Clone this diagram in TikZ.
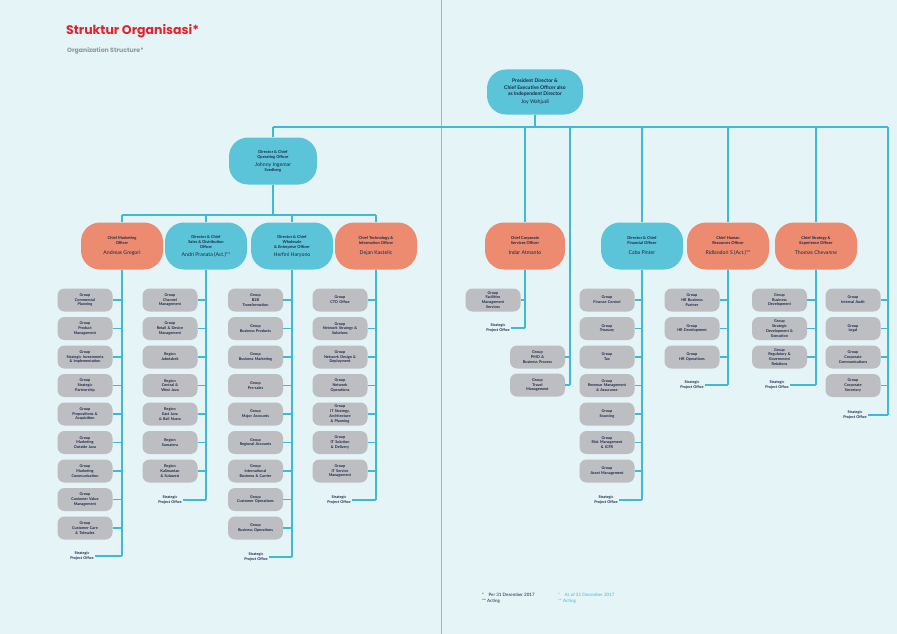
\documentclass[tikz,border=0pt]{standalone}
\usepackage{fontspec}
\setmainfont{Lato}
\newfontfamily\titlefont{Poppins}
\definecolor{bgblue}{HTML}{E5F4F7}
\definecolor{cyanbox}{HTML}{5CC4D8}
\definecolor{orangebox}{HTML}{EC8B70}
\definecolor{graybox}{HTML}{BDBEC2}
\definecolor{linecyan}{HTML}{3FB9D5}
\definecolor{navy}{HTML}{1B2646}
\definecolor{titlered}{HTML}{E2232E}
\definecolor{subgray}{HTML}{8C969E}
\definecolor{foldgray}{HTML}{A7B6BC}
\newcommand{\nameline}{\mdseries\fontsize{5.2}{6.2}\selectfont}

\begin{document}
\begin{tikzpicture}[x=1pt, y=-1pt,
    link/.style={draw=linecyan, line width=1.8pt},
    chief/.style={rounded corners=19pt, minimum width=82pt, minimum height=47pt,
                  inner sep=1pt, align=center, text=navy,
                  font=\bfseries\fontsize{4}{5}\selectfont},
    cyanchief/.style={chief, fill=cyanbox},
    orangechief/.style={chief, fill=orangebox},
    grp/.style={fill=graybox, rounded corners=7pt, minimum width=55pt,
                minimum height=23pt, text width=54pt, inner sep=0pt,
                align=center, text=navy,
                font=\bfseries\fontsize{3.8}{4.8}\selectfont},
    spo/.style={align=center, inner sep=1pt, text=navy,
                font=\bfseries\fontsize{3.8}{4.8}\selectfont}]

    \useasboundingbox (0,0) rectangle (897,634);
    \fill[bgblue] (0,0) rectangle (897,634);
    \draw[foldgray, line width=0.8pt] (441,0) -- (441,634);

    % title
    \node[anchor=west, inner sep=0pt, text=titlered,
          font=\titlefont\bfseries\fontsize{12.5}{14}\selectfont] (title) at (66,31) {Struktur Organisasi*};
    \node[anchor=west, inner sep=0pt, text=subgray,
          font=\titlefont\bfseries\fontsize{6.2}{7}\selectfont] (subtitle) at (67,51) {Organization Structure*};

    % top of the chart
    \node[cyanchief, minimum width=96pt, minimum height=45pt,
          font=\bfseries\fontsize{5}{6.4}\selectfont] (pres) at (535,92)
        {President Director \&\\Chief Executive Officer also\\as Independent Director\\[2pt]\nameline Joy Wahjudi};
    \node[cyanchief, minimum width=88pt] (coo) at (273,161)
        {Director \& Chief\\Operating Officer\\[3pt]\nameline Johnny Ingemar\\Svedberg};

    \node[orangechief] (cmo) at (122,246) {Chief Marketing\\Officer\\[5pt]\nameline Andreas Gregori};
    \node[cyanchief] (sal) at (206,246) {Director \& Chief\\Sales \& Distribution\\Officer\\[3pt]\nameline Andri Pranata (Act.)**};
    \node[cyanchief] (wsl) at (292,246) {Director \& Chief\\Wholesale\\\& Enterprise Officer\\[3pt]\nameline Herfini Haryono};
    \node[orangechief] (cto) at (376,246) {Chief Technology \&\\Information Officer\\[5pt]\nameline Dejan Kastelic};
    \node[orangechief, minimum width=80pt] (indar) at (525,246) {Chief Corporate\\Services Officer\\[5pt]\nameline Indar Atmanto};
    \node[cyanchief] (cfo) at (642,246) {Director \& Chief\\Financial Officer\\[5pt]\nameline Caba Pinter};
    \node[orangechief] (chro) at (728,246) {Chief Human\\Resources Officer\\[5pt]\nameline Ridlandori S (Act.)**};
    \node[orangechief] (cso) at (816,246) {Chief Strategy \&\\Experience Officer\\[5pt]\nameline Thomas Chevanne};

    % bus lines
    \coordinate (topL) at (273,127);
    \coordinate (topR) at (888,127);
    \coordinate (midL) at (122,215);
    \coordinate (midR) at (376,215);
    \draw[link] (pres.south) -- (pres.south |- topL);
    \draw[link] (topL) -- (topR);
    \draw[link] (topL) -- (coo.north);
    \draw[link] (coo.south) -- (coo.south |- midL);
    \draw[link] (midL) -- (midR);
    \foreach \c in {cmo,sal,wsl,cto} {
        \draw[link] (\c.north |- midL) -- (\c.north);
    }
    \foreach \c in {indar,cfo,chro,cso} {
        \draw[link] (\c.north |- topL) -- (\c.north);
    }

    % marketing
    \foreach \t [count=\i] in {{Group\\Commercial\\Planning}, {Group\\Product\\Management},
            {Group\\Strategic Investments\\\& Implementation}, {Group\\Strategic\\Partnership},
            {Group\\Propositions \&\\Acquisition}, {Group\\Marketing\\Outside Java},
            {Group\\Marketing\\Communication}, {Group\\Customer Value\\Management},
            {Group\\Customer Care\\\& Telesales}} {
        \node[grp] (cmo\i) at (85,{300+(\i-1)*28.5}) {\t};
        \draw[link] (cmo\i.east) -- (cmo\i.east -| cmo.south);
    }
    \node[spo] (cmospo) at (82,556) {Strategic\\Project Office};
    \coordinate (cmoEnd) at (cmospo.east -| cmo.south);
    \draw[link] (cmo.south) -- (cmoEnd);
    \draw[link] (cmospo.east) -- (cmoEnd);

    % sales
    \foreach \t [count=\i] in {{Group\\Channel\\Management}, {Group\\Retail \& Device\\Management},
            {Region\\Jabotabek}, {Region\\Central \&\\West Java}, {Region\\East Java\\\& Bali Nusra},
            {Region\\Sumatera}, {Region\\Kalimantan\\\& Sulawesi}} {
        \node[grp] (sal\i) at (170,{300+(\i-1)*28.5}) {\t};
        \draw[link] (sal\i.east) -- (sal\i.east -| sal.south);
    }
    \node[spo] (salspo) at (170,500) {Strategic\\Project Office};
    \coordinate (salEnd) at (salspo.east -| sal.south);
    \draw[link] (sal.south) -- (salEnd);
    \draw[link] (salspo.east) -- (salEnd);

    % wholesale
    \foreach \t [count=\i] in {{Group\\B2B\\Transformation}, {Group\\Business Products},
            {Group\\Business Marketing}, {Group\\Pre-sales}, {Group\\Major Accounts},
            {Group\\Regional Accounts}, {Group\\International\\Business \& Carrier},
            {Group\\Customer Operations}, {Group\\Business Operations}} {
        \node[grp] (wsl\i) at (255.5,{300+(\i-1)*28.5}) {\t};
        \draw[link] (wsl\i.east) -- (wsl\i.east -| wsl.south);
    }
    \node[spo] (wslspo) at (256,557) {Strategic\\Project Office};
    \coordinate (wslEnd) at (wslspo.east -| wsl.south);
    \draw[link] (wsl.south) -- (wslEnd);
    \draw[link] (wslspo.east) -- (wslEnd);

    % technology
    \foreach \t [count=\i] in {{Group\\CTO Office}, {Group\\Network Strategy \&\\Solutions},
            {Group\\Network Design \&\\Deployment}, {Group\\Network\\Operations},
            {Group\\IT Strategy,\\Architecture\\\& Planning}, {Group\\IT Solution\\\& Delivery},
            {Group\\IT Service\\Management}} {
        \node[grp] (cto\i) at (340,{300+(\i-1)*28.5}) {\t};
        \draw[link] (cto\i.east) -- (cto\i.east -| cto.south);
    }
    \node[spo] (ctospo) at (339,500) {Strategic\\Project Office};
    \coordinate (ctoEnd) at (ctospo.east -| cto.south);
    \draw[link] (cto.south) -- (ctoEnd);
    \draw[link] (ctospo.east) -- (ctoEnd);

    % corporate services
    \node[grp] (indar1) at (493,300) {Group\\Facilities\\Management\\Services};
    \draw[link] (indar1.east) -- (indar1.east -| indar.south);
    \node[spo] (indarspo) at (498,328) {Strategic\\Project Office};
    \coordinate (indarEnd) at (indarspo.east -| indar.south);
    \draw[link] (indar.south) -- (indarEnd);
    \draw[link] (indarspo.east) -- (indarEnd);

    % pmo and travel, straight from the top
    \node[grp] (pmo1) at (537.5,357) {Group\\PMO \&\\Business Process};
    \node[grp] (pmo2) at (537.5,385) {Group\\Travel\\Management};
    \coordinate (pmoEnd) at (570,385);
    \draw[link] (pmoEnd |- topL) -- (pmoEnd);
    \draw[link] (pmo1.east) -- (pmo1.east -| pmoEnd);
    \draw[link] (pmo2.east) -- (pmoEnd);

    % finance
    \foreach \t [count=\i] in {{Group\\Finance Control}, {Group\\Treasury}, {Group\\Tax},
            {Group\\Revenue Management\\\& Assurance}, {Group\\Sourcing},
            {Group\\Risk Management\\\& ICFR}, {Group\\Asset Management}} {
        \node[grp] (cfo\i) at (607,{300+(\i-1)*28.5}) {\t};
        \draw[link] (cfo\i.east) -- (cfo\i.east -| cfo.south);
    }
    \node[spo] (cfospo) at (606,500) {Strategic\\Project Office};
    \coordinate (cfoEnd) at (cfospo.east -| cfo.south);
    \draw[link] (cfo.south) -- (cfoEnd);
    \draw[link] (cfospo.east) -- (cfoEnd);

    % human resources
    \foreach \t [count=\i] in {{Group\\HR Business\\Partner}, {Group\\HR Development},
            {Group\\HR Operations}} {
        \node[grp] (chro\i) at (692,{300+(\i-1)*28.5}) {\t};
        \draw[link] (chro\i.east) -- (chro\i.east -| chro.south);
    }
    \node[spo] (chrospo) at (692,385) {Strategic\\Project Office};
    \coordinate (chroEnd) at (chrospo.east -| chro.south);
    \draw[link] (chro.south) -- (chroEnd);
    \draw[link] (chrospo.east) -- (chroEnd);

    % strategy
    \foreach \t [count=\i] in {{Group\\Business\\Development}, {Group\\Strategic\\Development \&\\Execution},
            {Group\\Regulatory \&\\Government\\Relations}} {
        \node[grp] (cso\i) at (779.5,{300+(\i-1)*28.5}) {\t};
        \draw[link] (cso\i.east) -- (cso\i.east -| cso.south);
    }
    \node[spo] (csospo) at (777,385) {Strategic\\Project Office};
    \coordinate (csoEnd) at (csospo.east -| cso.south);
    \draw[link] (cso.south) -- (csoEnd);
    \draw[link] (csospo.east) -- (csoEnd);

    % under the president
    \foreach \t [count=\i] in {{Group\\Internal Audit}, {Group\\Legal},
            {Group\\Corporate\\Communications}, {Group\\Corporate\\Secretary}} {
        \node[grp] (ceo\i) at (853,{300+(\i-1)*28.5}) {\t};
        \draw[link] (ceo\i.east) -- (ceo\i.east -| topR);
    }
    \node[spo] (ceospo) at (855,415) {Strategic\\Project Office};
    \coordinate (ceoEnd) at (ceospo.east -| topR);
    \draw[link] (topR) -- (ceoEnd);
    \draw[link] (ceospo.east) -- (ceoEnd);

    % notes
    \node[anchor=north west, inner sep=0pt, align=left, text=navy,
          font=\fontsize{4.5}{6}\selectfont] (noteid) at (482,593) {*\quad Per 31 Desember 2017\\**\ Acting};
    \node[anchor=north west, inner sep=0pt, align=left, text=linecyan,
          font=\fontsize{4.5}{6}\selectfont] (noteen) at (558,593) {*\quad As of 31 December 2017\\**\ Acting};
\end{tikzpicture}
\end{document}
